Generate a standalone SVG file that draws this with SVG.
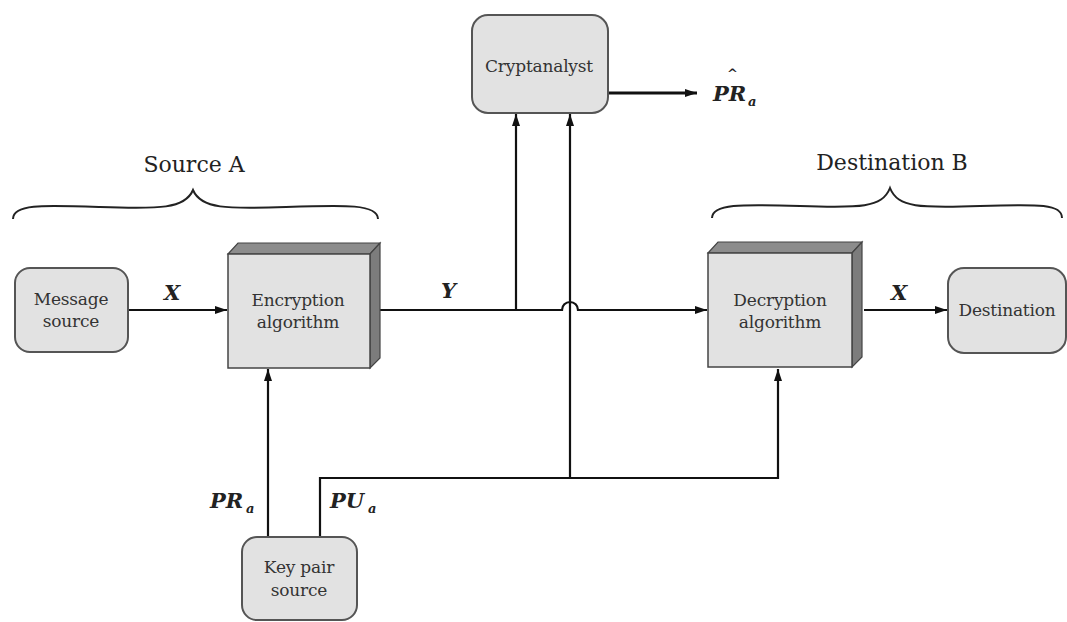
<svg xmlns="http://www.w3.org/2000/svg" width="1067" height="622" viewBox="0 0 1067 622">
  <style>
    .box { fill: #e2e2e2; stroke: #555; stroke-width: 2; }
    .face { fill: #e2e2e2; stroke: #444; stroke-width: 1.5; }
    .top { fill: #8c8c8c; stroke: #444; stroke-width: 1.2; }
    .side { fill: #7c7c7c; stroke: #444; stroke-width: 1.2; }
    text { font-family: "DejaVu Serif", "Liberation Serif", serif; }
    .lbl { font-size: 17px; fill: #333; text-anchor: middle; letter-spacing: -0.2px; }
    .head { font-size: 22px; fill: #222; text-anchor: middle; }
    .var { font-size: 21px; font-style: italic; font-weight: bold; fill: #222; }
    .sub { font-size: 13px; font-style: italic; font-weight: bold; fill: #222; }
    .wire { fill: none; stroke: #111; stroke-width: 2.2; }
    .brace { fill: none; stroke: #222; stroke-width: 2; }
  </style>
  <defs>
    <marker id="arr" viewBox="0 0 12 8" refX="12" refY="4" markerWidth="12" markerHeight="8" markerUnits="userSpaceOnUse" orient="auto">
      <path d="M0,0 L12,4 L0,8 Z" fill="#111"/>
    </marker>
  </defs>

  <rect width="1067" height="622" fill="#fff"/>

  <!-- headings and braces -->
  <text class="head" x="194" y="172">Source A</text>
  <path class="brace" d="M13,219 C13,204 40,205 100,207 C160,209 185,209 193,190 C201,209 226,209 286,207 C346,205 378,204 378,219"/>
  <text class="head" x="892" y="170">Destination B</text>
  <path class="brace" d="M712,218 C712,204 740,204 800,206 C860,208 882,208 890,188 C898,208 920,208 980,206 C1040,204 1062,204 1062,218"/>

  <g id="connectors">
    <!-- X: message source to encryption -->
    <line class="wire" x1="128" y1="310" x2="227" y2="310" marker-end="url(#arr)"/>
    <!-- Y: encryption to decryption, hopping over the PU line -->
    <path class="wire" d="M380,310 L562,310 A8,8 0 0 1 578,310 L707,310" marker-end="url(#arr)"/>
    <!-- tap of Y to cryptanalyst -->
    <line class="wire" x1="516" y1="310" x2="516" y2="114" marker-end="url(#arr)"/>
    <!-- X: decryption to destination -->
    <line class="wire" x1="864" y1="310" x2="947" y2="310" marker-end="url(#arr)"/>
    <!-- cryptanalyst estimate -->
    <line class="wire" x1="608" y1="93" x2="697" y2="93" marker-end="url(#arr)" style="stroke-width:3"/>
    <!-- PR_a: key pair to encryption -->
    <line class="wire" x1="268" y1="537" x2="268" y2="369" marker-end="url(#arr)"/>
    <!-- PU_a: key pair to decryption and cryptanalyst -->
    <path class="wire" d="M320,537 L320,478 L778,478 L778,369" marker-end="url(#arr)"/>
    <line class="wire" x1="570" y1="478" x2="570" y2="114" marker-end="url(#arr)"/>
  </g>

  <!-- connector labels -->
  <text class="var" x="164" y="300">X</text>
  <text class="var" x="441" y="298">Y</text>
  <text class="var" x="891" y="300">X</text>
  <text class="var" x="713" y="101">PR</text>
  <text class="sub" x="748" y="106">a</text>
  <text class="sub" x="727" y="78">^</text>
  <text class="var" x="210" y="508">PR</text>
  <text class="sub" x="246" y="513">a</text>
  <text class="var" x="330" y="508">PU</text>
  <text class="sub" x="368" y="513">a</text>

  <g id="message-source">
    <rect class="box" x="15" y="268" width="113" height="84" rx="15"/>
    <text class="lbl" x="71" y="305">Message</text>
    <text class="lbl" x="71" y="327">source</text>
  </g>

  <g id="encryption">
    <polygon class="top" points="228,254 238,243 380,243 370,254"/>
    <polygon class="side" points="370,254 380,243 380,358 370,368"/>
    <rect class="face" x="228" y="254" width="142" height="114"/>
    <text class="lbl" x="298" y="306">Encryption</text>
    <text class="lbl" x="298" y="328">algorithm</text>
  </g>

  <g id="cryptanalyst">
    <rect class="box" x="472" y="15" width="136" height="98" rx="16"/>
    <text class="lbl" x="539" y="72">Cryptanalyst</text>
  </g>

  <g id="decryption">
    <polygon class="top" points="708,253 718,242 862,242 852,253"/>
    <polygon class="side" points="852,253 862,242 862,357 852,367"/>
    <rect class="face" x="708" y="253" width="144" height="114"/>
    <text class="lbl" x="780" y="306">Decryption</text>
    <text class="lbl" x="780" y="328">algorithm</text>
  </g>

  <g id="destination">
    <rect class="box" x="948" y="268" width="118" height="85" rx="16"/>
    <text class="lbl" x="1007" y="316">Destination</text>
  </g>

  <g id="key-pair-source">
    <rect class="box" x="242" y="537" width="115" height="83" rx="15"/>
    <text class="lbl" x="299" y="573">Key pair</text>
    <text class="lbl" x="299" y="596">source</text>
  </g>
</svg>
